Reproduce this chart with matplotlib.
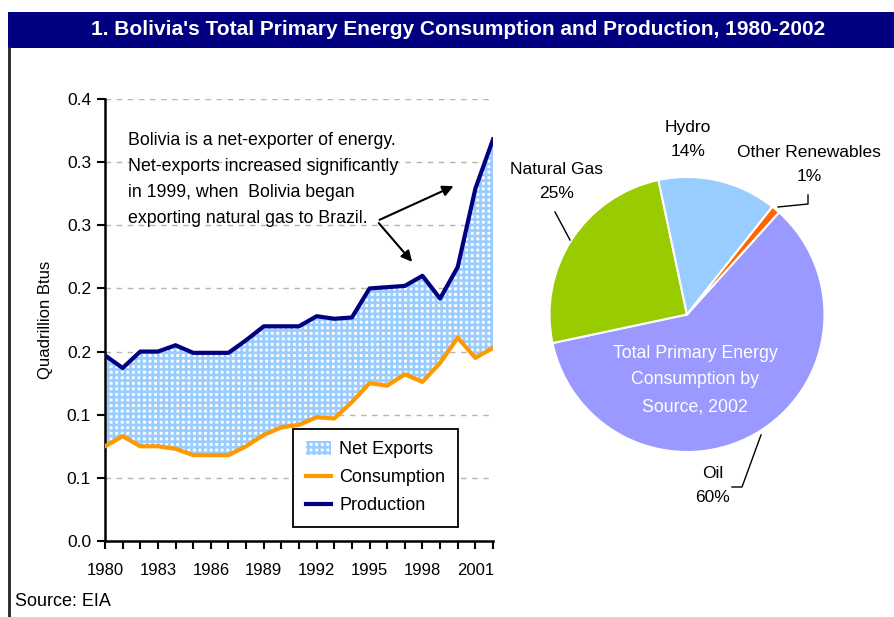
import matplotlib
matplotlib.use('Agg')
import matplotlib.pyplot as plt
from matplotlib.patches import Rectangle
from matplotlib.lines import Line2D

plt.rcParams['font.family'] = ['Liberation Sans', 'DejaVu Sans']
plt.rcParams['hatch.linewidth'] = 1.9

# data
years = list(range(1980, 2003))
production = [0.147, 0.137, 0.150, 0.150, 0.155, 0.149, 0.149, 0.149, 0.159, 0.170,
              0.170, 0.170, 0.178, 0.176, 0.177, 0.200, 0.201, 0.202, 0.210, 0.192,
              0.217, 0.279, 0.318]
consumption = [0.075, 0.083, 0.075, 0.075, 0.073, 0.068, 0.068, 0.068, 0.075, 0.084,
               0.090, 0.092, 0.098, 0.097, 0.110, 0.125, 0.123, 0.132, 0.126, 0.141,
               0.161, 0.145, 0.153]
x_tick_years = list(range(1980, 2003, 3))
y_ticks = [0.0, 0.05, 0.10, 0.15, 0.20, 0.25, 0.30, 0.35]
y_tick_labels = ['0.0', '0.1', '0.1', '0.2', '0.2', '0.3', '0.3', '0.4']

pie_labels = ['Oil', 'Natural Gas', 'Hydro', 'Other Renewables']
pie_shares = [60, 25, 14, 1]
pie_colors = ['#9999FF', '#99CC00', '#99CCFF', '#FF6600']

title = "1. Bolivia's Total Primary Energy Consumption and Production, 1980-2002"
note = ("Bolivia is a net-exporter of energy.\n"
        "Net-exports increased significantly\n"
        "in 1999, when  Bolivia began\n"
        "exporting natural gas to Brazil.")

W, H = 894, 617
fig = plt.figure(figsize=(W / 100, H / 100), dpi=100)
fig.patch.set_facecolor('white')

# title bar and left frame line
fig.patches.append(Rectangle((8 / W, 1 - 47.5 / H), 1, 35.5 / H, transform=fig.transFigure,
                             facecolor='#000080', edgecolor='none'))
fig.text(458 / W, 1 - 29.5 / H, title, color='white', fontsize=15, fontweight='bold',
         ha='center', va='center')
fig.lines.append(Line2D([9 / W, 9 / W], [0, 1 - 47.5 / H], transform=fig.transFigure,
                        color='#222222', lw=2))

# ---- line / area chart
ax = fig.add_axes([105 / W, 1 - 541 / H, 388 / W, 442 / H])
ax.set_xlim(1980, 2002)
ax.set_ylim(0, 0.35)

for yv in y_ticks[1:]:
    ax.axhline(yv, color='#b4b4b4', lw=1, ls=(0, (4, 4)), zorder=0)

ax.fill_between(years, consumption, production, facecolor='white', edgecolor='#99CCFF',
                hatch='+++', linewidth=0, zorder=1, label='Net Exports')
ax.plot(years, consumption, color='#FF9900', lw=3, zorder=3, label='Consumption')
ax.plot(years, production, color='#000080', lw=3, zorder=3, label='Production')

ax.spines['top'].set_visible(False)
ax.spines['right'].set_visible(False)
ax.spines['left'].set_linewidth(1.8)
ax.spines['bottom'].set_linewidth(1.8)

ax.set_xticks(years)
ax.set_xticklabels([str(y) if y in x_tick_years else '' for y in years], fontsize=12)
ax.set_yticks(y_ticks)
ax.set_yticklabels(y_tick_labels, fontsize=12.5)
ax.tick_params(direction='out', length=6, width=1.5, pad=4)
ax.tick_params(axis='x', pad=10)
ax.set_ylabel('Quadrillion Btus', fontsize=12)
ax.yaxis.set_label_coords(-0.135, 0.5)

ax.text(128 / W, 1 - 179.5 / H, note, transform=fig.transFigure, fontsize=12.8,
        ha='left', va='center', linespacing=1.7)

arrow = dict(arrowstyle='-|>', color='black', lw=1.5, mutation_scale=16)
ax.annotate('', xy=(456 / W, 1 - 185 / H), xytext=(377 / W, 1 - 221 / H),
            xycoords='figure fraction', textcoords='figure fraction', arrowprops=arrow)
ax.annotate('', xy=(414 / W, 1 - 264 / H), xytext=(377 / W, 1 - 221 / H),
            xycoords='figure fraction', textcoords='figure fraction', arrowprops=arrow)

leg = ax.legend(loc='lower left', bbox_to_anchor=(0.4845, 0.0317), fontsize=13,
                frameon=True, fancybox=False, edgecolor='black', framealpha=1,
                handlelength=1.4, handleheight=0.8, labelspacing=0.6,
                borderpad=0.7, handletextpad=0.45, borderaxespad=0)
leg.get_frame().set_linewidth(1.3)
leg.set_zorder(5)

fig.text(15 / W, 1 - 601 / H, 'Source: EIA', fontsize=13, ha='left', va='center')

# ---- pie chart
cx, cy, r = 687, 314.5, 137.5
pax = fig.add_axes([(cx - r) / W, 1 - (cy + r) / H, 2 * r / W, 2 * r / H])
wedges, _ = pax.pie(pie_shares, colors=pie_colors, startangle=48, counterclock=False,
                    wedgeprops=dict(edgecolor='white', linewidth=1.5))
pax.set_aspect('auto')
pax.set_xlim(-1, 1)
pax.set_ylim(-1, 1)

fig.text(695 / W, 1 - 380 / H, 'Total Primary Energy\nConsumption by\nSource, 2002',
         color='white', fontsize=12.8, ha='center', va='center', linespacing=1.75)

pie_label_pos = {'Oil': (713, 485.5), 'Natural Gas': (557, 181.5), 'Hydro': (688, 139.5),
                 'Other Renewables': (809, 164.5)}
for name, share in zip(pie_labels, pie_shares):
    px, py = pie_label_pos[name]
    fig.text(px / W, 1 - py / H, '%s\n%d%%' % (name, share), fontsize=12.5,
             ha='center', va='center', linespacing=1.8)

leaders = [[(761, 435), (742, 487), (732, 487)],
           [(570, 240), (555, 212)],
           [(778, 207), (808, 204), (808, 195)]]
for pts in leaders:
    fig.lines.append(Line2D([p[0] / W for p in pts], [1 - p[1] / H for p in pts],
                            transform=fig.transFigure, color='black', lw=1))

fig.savefig('out.png', dpi=100)
